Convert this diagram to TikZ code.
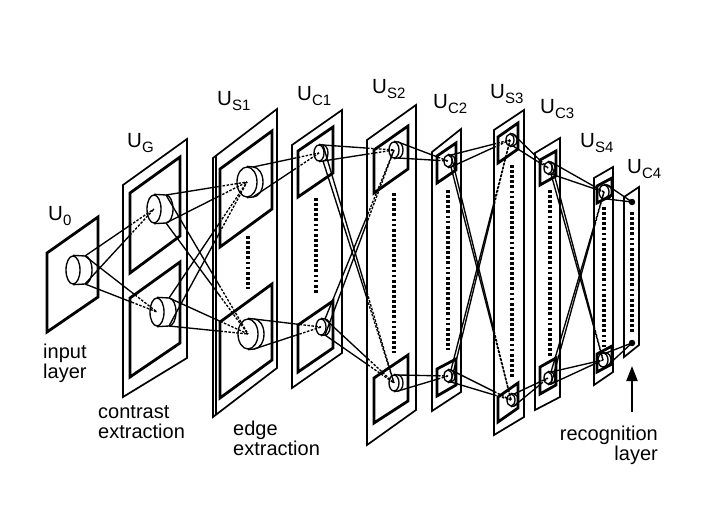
\documentclass[tikz,border=0pt]{standalone}
\usepackage{fontspec}
\setmainfont{Liberation Sans}
\usetikzlibrary{shapes.geometric,calc,arrows.meta}

\newcommand{\layername}[1]{U\raisebox{-5pt}{\fontsize{15}{15}\selectfont #1}}
\newcommand{\cone}[3]{%
  \draw[link] (#1-t) -- ($(#1-t)!#3!(#2.center)$);
  \draw[link,hidden] ($(#1-t)!#3!(#2.center)$) -- (#2.center);
  \draw[link] (#1-b) -- ($(#1-b)!#3!(#2.center)$);
  \draw[link,hidden] ($(#1-b)!#3!(#2.center)$) -- (#2.center);}

\begin{document}
\begin{tikzpicture}[x=1pt,y=-1pt,
    frame/.style={line width=1.7pt},
    plane/.style={line width=2.8pt},
    column/.style={line width=3.4pt, dash pattern=on 2.8pt off 2.3pt},
    link/.style={line width=1.35pt},
    hidden/.style={dash pattern=on 2.5pt off 1.5pt},
    cellnode/.style={ellipse, draw, line width=1.35pt, inner sep=0pt}]

        \useasboundingbox (0,0) rectangle (706,511);

        % outer frames
        \foreach \xl/\xr/\tl/\tr/\bl/\br in {123/187/185/139/397/358, 213/277/158/109/417/368,
            292/342/145/110/388/353, 367/416/140/105/445/410, 432/461/152/129/411/392,
            494/524/130/110/435/417, 535/560/153/138/410/397, 594/613/178/167/385/372,
            624/639/197/187/357/345}
          \draw[frame] (\xl,\tl) -- (\xr,\tr) -- (\xr,\br) -- (\xl,\bl) -- cycle;
        \draw[frame] (216,156) -- (216,415);

        % input plane and cell planes
        \foreach \xl/\xr/\tl/\tr/\bl/\br in {47/98/253/217/332/297,
            130/180/193/157/273/236, 130/180/298/262/377/343,
            220/272/169/131/247/209, 220/272/322/284/398/360,
            298/333/151/127/197/173, 298/333/325/301/372/348,
            374/408/150/126/193/169, 374/408/378/355/423/401,
            437/456/156/143/183/170, 437/456/369/359/396/385,
            498/518/137/123/163/149, 498/518/397/383/422/408,
            540/556/160/151/185/176, 540/556/367/358/394/385,
            597/612/186/178/203/195, 597/612/354/346/372/364}
          \draw[plane] (\xl,\tl) -- (\xr,\tr) -- (\xr,\br) -- (\xl,\bl) -- cycle;

        % dotted columns
        \foreach \x/\ya/\yb in {248/236/289, 316/198/293, 394/193/353, 448/190/350,
            512/165/378, 550/190/357, 604/207/347, 632/212/333}
          \draw[column] (\x,\ya) -- (\x,\yb);

        % cells
        \foreach \n/\x/\y/\rx/\ry/\l in {c0/73/270/7/14/12, g1/154/209/7/14/12,
            g2/157/312/7/14/12, s1a/247/182/10/15/6, s1b/248/334/10/15/6,
            c1a/319/153/5/8/4, c1b/321/327/5/8/4, s2a/394/150/5/8/4, s2b/394/383/5/8/4,
            c2a/448/161/4/6/3, c2b/448/376/4/6/3, s3a/510/140/4/6/3, s3b/511/400/4/6/3,
            c3a/548/168/4/6/3, c3b/548/378/4/6/3, s4a/604/192/5/7/3, s4b/603/360/5/7/3}{
          \node[cellnode, minimum width={2*\rx}, minimum height={2*\ry}] (\n) at (\x,\y) {};
          \coordinate (\n-t) at ({\x+\l},{\y-\ry});
          \coordinate (\n-b) at ({\x+\l},{\y+\ry});
          \draw[link] (\n.north) -- (\n-t)
            arc[start angle=-90, end angle=90, x radius=\rx, y radius=\ry] -- (\n.south);
        }
        \node[circle, fill, inner sep=0pt, minimum size=6.5pt] (c4a) at (632,202) {};
        \node[circle, fill, inner sep=0pt, minimum size=6.5pt] (c4b) at (632,343) {};

        % connections
        \foreach \a/\b/\f in {c0/g1/0.65, c0/g2/0.65, g1/s1a/0.65, g1/s1b/0.65,
            g2/s1a/0.65, g2/s1b/0.65, s1a/c1a/0.62, s1b/c1b/0.62,
            c1a/s2a/0.62, c1a/s2b/0.62, c1b/s2a/0.62, c1b/s2b/0.62,
            s2a/c2a/0.72, s2b/c2b/0.72, c2a/s3a/0.72, c2a/s3b/0.72,
            c2b/s3a/0.72, c2b/s3b/0.72, s3a/c3a/0.7, s3b/c3b/0.7,
            c3a/s4a/0.83, c3a/s4b/0.83, c3b/s4a/0.83, c3b/s4b/0.83,
            s4a/c4a/1, s4b/c4b/1}
          {\cone{\a}{\b}{\f}}

        \begin{scope}[every node/.style={anchor=base west, inner sep=0pt, font=\fontsize{20.5}{20.5}\selectfont}]
          \node (u0)  at (48,220)  {\layername{0}};
          \node (ug)  at (127,147) {\layername{G}};
          \node (us1) at (217,105) {\layername{S1}};
          \node (uc1) at (297,100) {\layername{C1}};
          \node (us2) at (372,93)  {\layername{S2}};
          \node (uc2) at (433,108) {\layername{C2}};
          \node (us3) at (490,98)  {\layername{S3}};
          \node (uc3) at (540,113) {\layername{C3}};
          \node (us4) at (580,147) {\layername{S4}};
          \node (uc4) at (627,173) {\layername{C4}};
        \end{scope}

        \begin{scope}[every node/.style={inner sep=0pt, font=\fontsize{20}{20}\selectfont}]
          \node[anchor=north west, align=left]  (input)    at (43,344)  {input\\layer};
          \node[anchor=north west, align=left]  (contrast) at (98,405)  {contrast\\extraction};
          \node[anchor=north west, align=left]  (edge)     at (233,421) {edge\\extraction};
          \node[anchor=north east, align=right] (recog)    at (658,426) {recognition\\layer};
        \end{scope}

        \coordinate (tail) at (632,412);
        \coordinate (tip)  at (632,366);
        \draw[line width=2.2pt, -{Triangle[length=15pt,width=11pt]}] (tail) -- (tip);

\end{tikzpicture}
\end{document}
